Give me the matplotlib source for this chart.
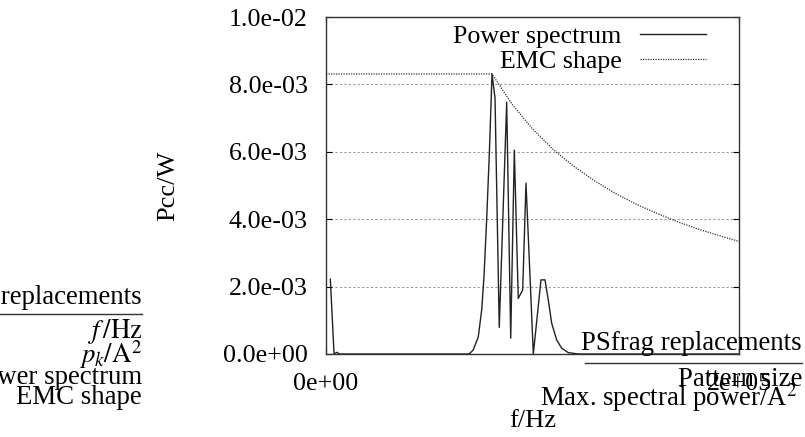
import matplotlib
matplotlib.use("Agg")
import matplotlib.pyplot as plt
from matplotlib.lines import Line2D
from matplotlib.ticker import FixedLocator, FuncFormatter

# values
freq_hz = [2100, 3900, 5300, 6500, 68800, 69700, 71300, 73750, 75400, 76500,
           77800, 79100, 80400, 81850, 83900, 87500, 89450, 91200, 93100,
           95250, 96850, 100400, 104100, 106050, 107650, 109300, 111700,
           114150, 117350, 122200, 200000]
power = [2.22e-3, 0.0, 5.0e-5, 0.0, 0.0, 2.0e-5, 1.2e-4, 5.1e-4, 1.31e-3,
         2.29e-3, 3.98e-3, 5.96e-3, 8.31e-3, 7.59e-3, 7.9e-4, 7.47e-3, 4.7e-4,
         6.05e-3, 1.65e-3, 1.90e-3, 5.07e-3, 0.0, 2.20e-3, 2.20e-3, 1.60e-3,
         9.1e-4, 4.2e-4, 1.7e-4, 4.0e-5, 0.0, 0.0]

emc_freq = [0, 80400, 90000, 100000, 110000, 120000, 130000, 140000,
            150000, 160000, 170000, 180000, 190000, 200000]
emc_shape = [8.31e-3, 8.31e-3, 7.42e-3, 6.68e-3, 6.07e-3, 5.57e-3, 5.14e-3,
             4.77e-3, 4.45e-3, 4.18e-3, 3.93e-3, 3.71e-3, 3.52e-3, 3.34e-3]

y_ticks = [0.0, 2e-3, 4e-3, 6e-3, 8e-3, 1e-2]
x_ticks = [0, 2e5]

plt.rcParams["font.family"] = ["Liberation Serif", "DejaVu Serif"]
plt.rcParams["mathtext.fontset"] = "stix"

W, H = 805, 437
fig = plt.figure(figsize=(W / 100, H / 100), dpi=100)
ax = fig.add_axes([326 / W, 1 - 354 / H, 413 / W, 337 / H])

ax.plot(freq_hz, power, color="#222222", lw=1.0, label="Power spectrum")
ax.plot(emc_freq, emc_shape, color="#333333", lw=0.9, linestyle=(0, (1, 1)),
        label="EMC shape")

ax.set_xlim(0, 2e5)
ax.set_ylim(0, 1e-2)
ax.yaxis.set_major_locator(FixedLocator(y_ticks))
ax.xaxis.set_major_locator(FixedLocator(x_ticks))
ax.yaxis.set_major_formatter(FuncFormatter(lambda v, _: f"{v:.1e}"))
ax.xaxis.set_major_formatter(FuncFormatter(lambda v, _: f"{v:.0e}"))
ax.tick_params(direction="in", length=4, width=0.8, labelsize=18.7,
               right=True, top=True, pad=13)
ax.tick_params(axis="x", pad=14)
ax.grid(axis="y", color="#999999", lw=0.8, linestyle=(0, (2, 2)))
for s in ax.spines.values():
    s.set_linewidth(1.0)
    s.set_color("#333333")

ax.set_ylabel("Pcc/W", fontsize=19)
ax.yaxis.set_label_coords(-0.355, 0.5)
ax.set_xlabel("f/Hz", fontsize=19)
ax.xaxis.set_label_coords(0.5, -0.165)

ax.legend(loc="upper right", bbox_to_anchor=(1 - 20 / 413, 1 + 5 / 337),
          markerfirst=False, frameon=False, fontsize=18.7,
          handlelength=2.55, handletextpad=0.7, labelspacing=0.07,
          borderaxespad=0.3, borderpad=0.2)

# PSfrag leftovers around the plot
fs = 19.3
left_col = ["PSfrag replacements", r"$f\,/\mathrm{Hz}$", r"$p_k/\mathrm{A}^2$",
            "Power spectrum", "EMC shape"]
left_y = [298, 332, 355, 377, 397]
for t, y in zip(left_col, left_y):
    fig.text(142 / W, 1 - y / H, t, ha="right", va="center", fontsize=fs)
fig.add_artist(Line2D([0, 142 / W], [1 - 314 / H] * 2, color="#333333", lw=1.0))

fig.text(802 / W, 1 - 343 / H, "PSfrag replacements", ha="right", va="center",
         fontsize=fs)
fig.add_artist(Line2D([585 / W, 802 / W], [1 - 363 / H] * 2, color="#333333",
                      lw=1.0))
fig.text(802 / W, 1 - 380 / H, "Pattern size", ha="right", va="center",
         fontsize=fs)
fig.text(797 / W, 1 - 398 / H, r"Max. spectral power/A$^2$", ha="right",
         va="center", fontsize=fs)

fig.savefig("out.png", dpi=100)
